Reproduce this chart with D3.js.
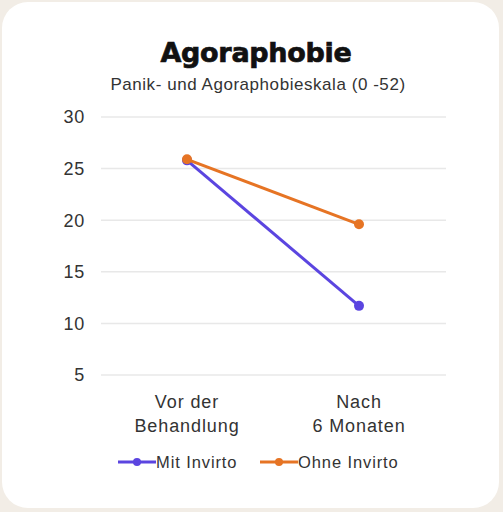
<!DOCTYPE html>
<html>
<head>
<meta charset="utf-8">
<script src="https://cdn.jsdelivr.net/npm/d3@7"></script>
<style>
   body { margin: 0; background: #f2ede6; }
   svg { display: block; }
</style>
</head>
<body>
<div id="chart"></div>
<script>
// Chart data
const categories = [["Vor der", "Behandlung"], ["Nach", "6 Monaten"]];
const seriesNames = ["Mit Invirto", "Ohne Invirto"];
const mitInvirto = [25.8, 11.7];
const ohneInvirto = [25.9, 19.6];
const yTicks = [5, 10, 15, 20, 25, 30];
const colors = ["#5b45e0", "#e67424"];

const width = 503, height = 512;
const font = "Liberation Sans, Arial, sans-serif";

const svg = d3.select("#chart")
   .append("svg")
   .attr("width", width)
   .attr("height", height);

// Card
svg.append("rect")
   .attr("x", 2).attr("y", 2)
   .attr("width", 497).attr("height", 506)
   .attr("rx", 26)
   .attr("fill", "#ffffff");

// Title
svg.append("text")
   .attr("x", 256).attr("y", 62)
   .attr("text-anchor", "middle")
   .attr("font-family", "DejaVu Sans, sans-serif")
   .attr("font-weight", 700)
   .attr("font-size", 27)
   .attr("letter-spacing", -0.3)
   .attr("fill", "#111")
   .attr("stroke", "#111")
   .attr("stroke-width", 0.7)
   .text("Agoraphobie");

svg.append("text")
   .attr("x", 258).attr("y", 90)
   .attr("text-anchor", "middle")
   .attr("font-family", font)
   .attr("font-size", 17)
   .attr("letter-spacing", 0.55)
   .attr("fill", "#333")
   .text("Panik- und Agoraphobieskala (0 -52)");

// Scales
const x = d3.scalePoint()
   .domain(d3.range(categories.length))
   .range([187, 359]);

const y = d3.scaleLinear()
   .domain([5, 30])
   .range([375, 117]);

// Gridlines + y labels
const grid = svg.append("g");
grid.selectAll("line")
   .data(yTicks)
   .join("line")
   .attr("x1", 101).attr("x2", 446)
   .attr("y1", d => y(d)).attr("y2", d => y(d))
   .attr("stroke", "#e8e8e8")
   .attr("stroke-width", 1.5);

grid.selectAll("text")
   .data(yTicks)
   .join("text")
   .attr("x", 85)
   .attr("y", d => y(d))
   .attr("dy", "0.36em")
   .attr("text-anchor", "end")
   .attr("font-family", font)
   .attr("font-size", 18)
   .attr("letter-spacing", 0.7)
   .attr("fill", "#333")
   .text(d => d);

// X labels
const xl = svg.append("g")
   .selectAll("text")
   .data(categories)
   .join("text")
   .attr("x", (d, i) => x(i))
   .attr("y", 408)
   .attr("text-anchor", "middle")
   .attr("font-family", font)
   .attr("font-size", 18)
   .attr("letter-spacing", 0.9)
   .attr("fill", "#333");
xl.selectAll("tspan")
   .data(d => d)
   .join("tspan")
   .attr("x", function () { return d3.select(this.parentNode).attr("x"); })
   .attr("dy", (d, i) => i === 0 ? 0 : 24)
   .text(d => d);

// Lines
const series = [mitInvirto, ohneInvirto];
const line = d3.line()
   .x((d, i) => x(i))
   .y(d => y(d));

series.forEach((s, k) => {
   const g = svg.append("g");
   g.append("path")
      .datum(s)
      .attr("fill", "none")
      .attr("stroke", colors[k])
      .attr("stroke-width", 3)
      .attr("d", line);
   g.selectAll("circle")
      .data(s)
      .join("circle")
      .attr("cx", (d, i) => x(i))
      .attr("cy", d => y(d))
      .attr("r", 5)
      .attr("fill", colors[k]);
});

// Legend
const legendX = [118, 260];
const legend = svg.append("g")
   .selectAll("g")
   .data(seriesNames)
   .join("g")
   .attr("transform", (d, i) => `translate(${legendX[i]},462)`);
legend.append("line")
   .attr("x1", 0).attr("x2", 38)
   .attr("stroke", (d, i) => colors[i])
   .attr("stroke-width", 3);
legend.append("circle")
   .attr("cx", 19).attr("r", 4)
   .attr("fill", (d, i) => colors[i]);
legend.append("text")
   .attr("x", 38)
   .attr("dy", "0.36em")
   .attr("font-family", font)
   .attr("font-size", 16.5)
   .attr("letter-spacing", 0.9)
   .attr("fill", "#333")
   .text(d => d);
</script>
</body>
</html>
